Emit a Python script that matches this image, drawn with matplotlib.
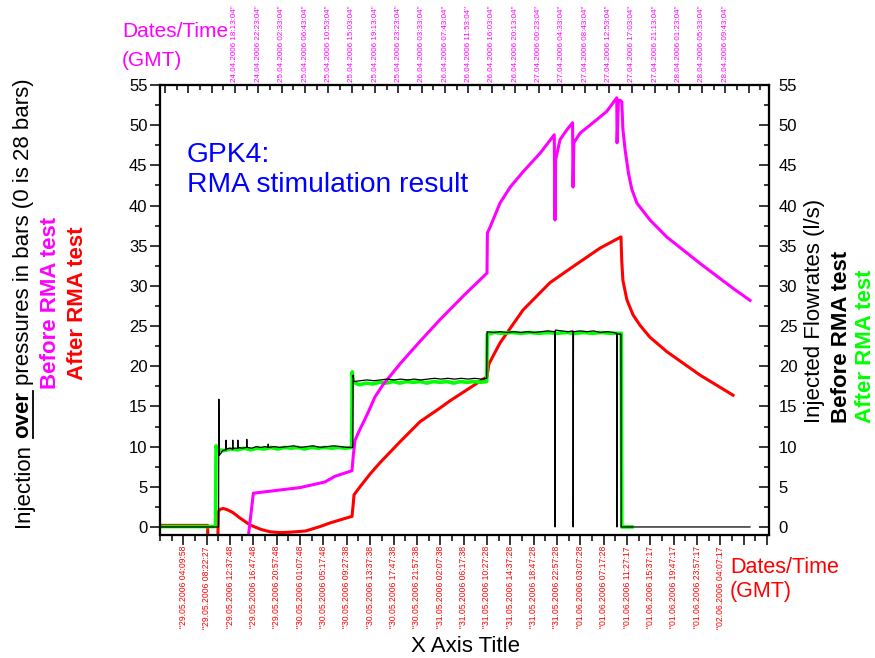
import numpy as np
import matplotlib
matplotlib.use('Agg')
import matplotlib.pyplot as plt
from matplotlib.lines import Line2D
from matplotlib.ticker import MultipleLocator

plt.rcParams['font.family'] = ['Liberation Sans', 'DejaVu Sans']

# After RMA test, bottom axis: hours since 29.05.2006 00:00
after_p_t = [0, 8.5, 8.55, 10.3, 10.4, 10.7, 11.3, 12.0, 13.0, 14.3, 16.06, 18.0,
             19.63, 21.4, 23.2, 26.0, 28.55, 30.34, 33.9, 34.26, 34.5, 34.62,
             35.69, 37.5, 39.26, 42.83, 46.4, 49.96, 51.75, 55.5, 58.35, 58.7,
             60.67, 64.78, 69.59, 73.7, 78.52, 82.26, 82.4, 82.6, 83.3, 84.4,
             85.65, 87.44, 90.47, 96.36, 102.25]
after_p = [0.2, 0.2, -3, -3, 1.9, 2.2, 2.3, 2.15, 1.8, 1.1, 0.25, -0.3,
           -0.6, -0.7, -0.65, -0.5, 0.05, 0.5, 1.25, 1.3, 3.0, 4.0,
           5.0, 6.6, 8.0, 10.6, 13.1, 14.8, 15.7, 17.4, 18.7, 20.3,
           22.9, 27.0, 30.4, 32.4, 34.7, 36.1, 33.0, 30.7, 28.3, 26.4,
           25.1, 23.6, 21.8, 18.9, 16.4]

after_q_t = [0, 9.9, 10.0, 10.4, 11.4, 12.6, 13.8, 15.0, 16.2, 17.4, 18.6, 19.8,
             21.0, 22.2, 23.4, 24.6, 25.8, 27.0, 28.2, 29.4, 30.6, 31.8, 33.0,
             34.2, 34.3, 34.45, 35.6, 36.8, 38.0, 39.2, 40.4, 41.6, 42.8, 44.0,
             45.2, 46.4, 47.6, 48.8, 50.0, 51.2, 52.4, 53.6, 54.8, 56.0, 57.2,
             58.3, 58.4, 59.6, 61.2, 62.8, 64.4, 66.0, 67.6, 69.2, 70.8, 72.4,
             74.0, 75.6, 77.2, 78.8, 80.4, 82.3, 82.4, 84.2]
after_q = [0.05, 0.05, 10.1, 9.6, 9.5, 9.7, 9.6, 9.8, 9.6, 9.8, 9.7, 9.9,
           9.7, 9.9, 9.8, 9.9, 9.7, 9.9, 9.8, 9.9, 9.8, 9.9, 9.8,
           9.9, 19.3, 18.0, 17.7, 17.9, 17.8, 18.0, 17.9, 18.1, 17.9, 18.1,
           18.0, 18.1, 17.9, 18.1, 18.0, 18.1, 17.9, 18.1, 18.0, 18.1, 18.0,
           18.1, 24.0, 24.2, 24.1, 24.2, 24.1, 24.2, 24.1, 24.2, 24.1, 24.2,
           24.1, 24.2, 24.1, 24.2, 24.1, 24.1, 0.0, 0.0]

# Before RMA test, top axis: hours since 24.04.2006 00:00
before_p_t = [20.55, 21.50, 26.24, 29.84, 34.28, 36.04, 39.10, 39.34, 39.64,
              40.54, 41.06, 42.14, 43.21, 44.64, 47.67, 51.24, 54.80, 59.04,
              63.19, 63.26, 63.73, 65.51, 67.34, 69.62, 72.65, 75.19, 75.33,
              75.44, 76.22, 77.41, 78.46, 78.54, 78.69, 79.78, 81.57, 84.54,
              86.34, 86.40, 86.64, 86.94, 87.24, 87.44, 87.84, 88.44, 89.04,
              89.94, 92.28, 95.24, 101.20, 107.09, 110.12]
before_p = [-1.5, 4.2, 4.6, 4.9, 5.6, 6.3, 7.0, 9.0, 10.8,
            12.2, 12.9, 14.5, 16.2, 17.7, 20.3, 23.1, 25.8, 28.8,
            31.6, 36.6, 37.3, 40.3, 42.3, 44.2, 46.5, 48.8, 38.2,
            45.7, 48.2, 49.4, 50.3, 42.3, 47.8, 49.0, 50.0, 51.7,
            53.4, 47.8, 53.1, 53.1, 52.9, 49.5, 46.9, 44.0, 42.0,
            40.3, 38.2, 36.1, 32.8, 29.7, 28.2]

before_q_t = [4.84, 15.29, 15.34, 15.40, 15.74, 16.04, 16.44, 16.60, 16.63, 16.66,
              16.74, 17.3, 17.80, 17.83, 17.86, 17.94, 18.70, 18.73, 18.76, 18.84,
              19.5, 20.30, 20.33, 20.36, 20.44, 21.2, 22.0, 22.8, 23.6, 24.12,
              24.15, 24.18, 25.2, 26.3, 27.5, 28.7, 29.9, 31.0, 32.2, 33.4,
              34.6, 35.8, 37.0, 38.2, 39.24, 39.30, 39.44, 40.6, 41.8, 43.0,
              44.2, 45.4, 46.6, 47.8, 49.0, 50.2, 51.4, 52.6, 53.8, 55.0,
              56.2, 57.4, 58.6, 59.8, 61.0, 62.2, 63.14, 63.20, 64.4, 65.6,
              66.8, 68.0, 69.2, 70.4, 71.6, 72.8, 74.0, 75.29, 75.34, 75.39,
              76.5, 77.6, 78.52, 78.56, 78.62, 79.8, 81.0, 82.2, 83.4, 84.6,
              85.8, 86.32, 86.36, 86.42, 87.09, 87.14, 110.12]
before_q = [0, 0, 15.9, 8.9, 9.2, 9.5, 9.6, 9.6, 10.8, 9.6,
            9.7, 9.8, 9.7, 10.8, 9.7, 9.8, 9.8, 10.8, 9.8, 9.9,
            9.8, 9.9, 10.9, 9.9, 9.9, 9.8, 10.0, 9.9, 10.0, 9.9,
            10.3, 9.9, 10.0, 9.9, 10.0, 10.1, 9.9, 10.0, 10.1, 9.9,
            10.0, 10.1, 10.0, 9.9, 9.9, 18.9, 18.1, 18.2, 18.3, 18.2,
            18.3, 18.4, 18.3, 18.4, 18.3, 18.4, 18.3, 18.4, 18.5, 18.4,
            18.5, 18.4, 18.5, 18.4, 18.5, 18.4, 18.5, 24.3, 24.2, 24.3,
            24.2, 24.3, 24.2, 24.3, 24.2, 24.3, 24.4, 24.3, 0, 24.5,
            24.4, 24.3, 24.4, 0, 24.3, 24.4, 24.3, 24.4, 24.2, 24.3,
            24.2, 24.1, 0, 24.0, 24.0, 0, 0]

bottom_labels = ['"29.05.2006 04:09:58', '"29.05.2006 08:22:27', '"29.05.2006 12:37:48',
                 '"29.05.2006 16:47:48', '"29.05.2006 20:57:48', '"30.05.2006 01:07:48',
                 '"30.05.2006 05:17:48', '"30.05.2006 09:27:38', '"30.05.2006 13:37:38',
                 '"30.05.2006 17:47:38', '"30.05.2006 21:57:38', '"31.05.2006 02:07:38',
                 '"31.05.2006 06:17:38', '"31.05.2006 10:27:28', '"31.05.2006 14:37:28',
                 '"31.05.2006 18:47:28', '"31.05.2006 22:57:28', '"01.06.2006 03:07:28',
                 '"01.06.2006 07:17:28', '"01.06.2006 11:27:17', '"01.06.2006 15:37:17',
                 '"01.06.2006 19:47:17', '"01.06.2006 23:57:17', '"02.06.2006 04:07:17']
top_labels = ['24.04.2006 18:13:04"', '24.04.2006 22:23:04"', '25.04.2006 02:33:04"',
              '25.04.2006 06:43:04"', '25.04.2006 10:53:04"', '25.04.2006 15:03:04"',
              '25.04.2006 19:13:04"', '25.04.2006 23:23:04"', '26.04.2006 03:33:04"',
              '26.04.2006 07:43:04"', '26.04.2006 11:53:04"', '26.04.2006 16:03:04"',
              '26.04.2006 20:13:04"', '27.04.2006 00:23:04"', '27.04.2006 04:33:04"',
              '27.04.2006 08:43:04"', '27.04.2006 12:53:04"', '27.04.2006 17:03:04"',
              '27.04.2006 21:13:04"', '28.04.2006 01:23:04"', '28.04.2006 05:33:04"',
              '28.04.2006 09:43:04"']

W, H = 875, 658
STEP = 25 / 6          # 4 h 10 min between labelled ticks
SPAN = 108.67
TOP_START = 4.84
TOP_FIRST = 18.2178    # 24.04.2006 18:13:04

fig = plt.figure(figsize=(W / 100, H / 100), dpi=100)
ax = fig.add_axes([160 / W, 1 - 535 / H, 609 / W, 450 / H])
ax.plot(after_p_t, after_p, color='#ff0000', lw=2.2)
ax.plot(after_q_t, after_q, color='#00ff00', lw=2.6)
ax.set_xlim(0, SPAN)
ax.set_ylim(-1, 55)

ax_top = ax.twiny()
ax_top.plot(before_p_t, before_p, color='#ff00ff', lw=2.2)
ax_top.plot(before_q_t, before_q, color='black', lw=0.9)
ax_top.set_xlim(TOP_START, TOP_START + SPAN)

ax_r = ax.twinx()
ax_r.set_ylim(-1, 55)

for a in (ax, ax_top, ax_r):
    for sp in a.spines.values():
        sp.set_linewidth(1.5)

# bottom axis ticks
bpos = [STEP * k for k in range(1, 27)]
ax.set_xticks(bpos, bottom_labels + [''] * (len(bpos) - len(bottom_labels)))
ax.set_xticks(np.arange(0, SPAN, STEP / 2), minor=True)
ax.tick_params(axis='x', which='major', direction='out', length=7, width=1.1,
               pad=1, labelsize=6.2, labelcolor='#ff0000', labelrotation=90)
ax.tick_params(axis='x', which='minor', direction='out', length=4.3, width=1.1)

# top axis ticks
tpos = [TOP_FIRST + STEP * k for k in range(-3, 23)]
ax_top.set_xticks(tpos, [''] * 3 + top_labels + [''])
tmin = TOP_FIRST + STEP / 2 * np.arange(-6, 46)
ax_top.set_xticks(tmin[(tmin > TOP_START) & (tmin < TOP_START + SPAN)], minor=True)
ax_top.tick_params(axis='x', which='major', direction='in', length=5.8, width=1.1,
                   pad=2.5, labelsize=5.8, labelcolor='#ff00ff', labelrotation=90)
ax_top.tick_params(axis='x', which='minor', direction='in', length=3.6, width=1.1)

# y axes
for a, d, p in ((ax, 'out', 2), (ax_r, 'in', 7)):
    a.set_yticks(range(0, 56, 5))
    a.yaxis.set_minor_locator(MultipleLocator(2.5))
    a.tick_params(axis='y', which='major', direction=d, length=7, width=1.1,
                  labelsize=12, pad=p)
    a.tick_params(axis='y', which='minor', direction=d, length=3.6, width=1.1)


def px(x, y):
    return x / W, 1 - y / H


fig.text(*px(187, 162), 'GPK4:', color='#0000ff', fontsize=20.3, va='baseline')
fig.text(*px(187, 192), 'RMA stimulation result', color='#0000ff', fontsize=20.3,
         va='baseline')
fig.text(*px(122, 37), 'Dates/Time', color='#ff00ff', fontsize=15, va='baseline')
fig.text(*px(122, 66), '(GMT)', color='#ff00ff', fontsize=15, va='baseline')
fig.text(*px(730, 573), 'Dates/Time', color='#ff0000', fontsize=15.5, va='baseline')
fig.text(*px(730, 597), '(GMT)', color='#ff0000', fontsize=15.5, va='baseline')
fig.text(*px(465, 652), 'X Axis Title', fontsize=16, ha='center', va='baseline')

rot = dict(rotation=90, rotation_mode='anchor', va='baseline')

# right axis title
fig.text(*px(820, 423), 'Injected Flowrates (l/s)', ha='left', fontsize=16, **rot)
fig.text(*px(847, 423), 'Before RMA test', ha='left', fontsize=16,
         fontweight='bold', **rot)
fig.text(*px(871, 423), 'After RMA test', ha='left', fontsize=16,
         fontweight='bold', color='#00ff00', **rot)

# left axis title, with "over" in bold and underlined
renderer = fig.canvas.get_renderer()


def text_len(s, weight='normal'):
    t = fig.text(0, 0, s, fontsize=16, fontweight=weight)
    w = t.get_window_extent(renderer).width
    t.remove()
    return w


pieces = [('Injection', 'normal'), ('over', 'bold'),
          ('pressures in bars (0 is 28 bars)', 'normal')]
gap = text_len('I I') - text_len('II')
lens = [text_len(s, w) for s, w in pieces]
total = sum(lens) + gap * (len(pieces) - 1)
y = 303 + total / 2
for (s, w), n in zip(pieces, lens):
    fig.text(*px(28.5, y), s, ha='left', fontsize=16, fontweight=w, **rot)
    if s == 'over':
        fig.add_artist(Line2D([32.5 / W, 32.5 / W], [1 - y / H, 1 - (y - n) / H],
                              transform=fig.transFigure, color='black', lw=1.3))
    y -= n + gap

fig.text(*px(56, 303), 'Before RMA test', ha='center', fontsize=16,
         fontweight='bold', color='#ff00ff', **rot)
fig.text(*px(83, 303), 'After RMA test', ha='center', fontsize=16,
         fontweight='bold', color='#ff0000', **rot)

fig.savefig('out.png', dpi=100)
